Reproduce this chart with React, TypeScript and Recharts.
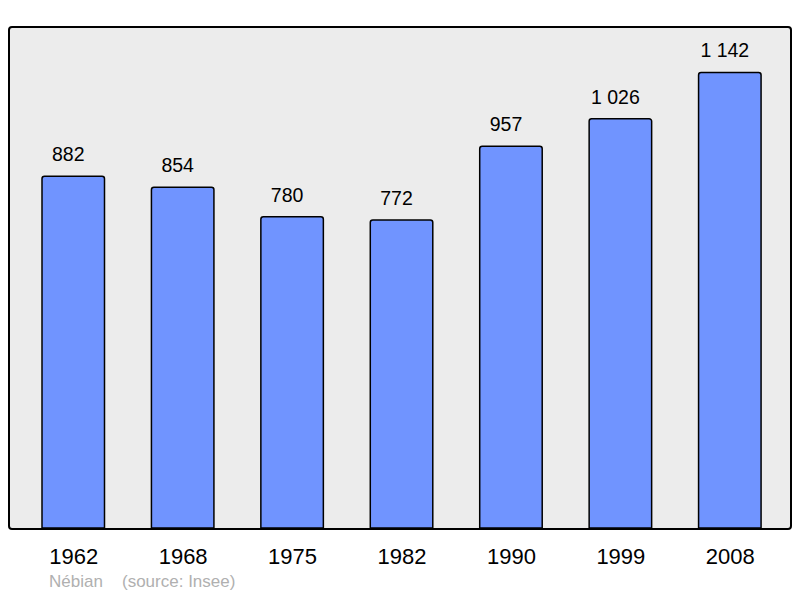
import React from "react"
import { BarChart, Bar, XAxis, YAxis, LabelList } from "recharts"

const years = ["1962", "1968", "1975", "1982", "1990", "1999", "2008"]
const population = [882, 854, 780, 772, 957, 1026, 1142]

const data = years.map((year, i) => ({ year, population: population[i] }))

const FONT = '"Liberation Sans", Arial, sans-serif'

const fmt = (v: number) => String(v).replace(/\B(?=(\d{3})+(?!\d))/g, " ")

export default function App() {
  return (
    <div style={{ position: "absolute", left: 0, top: 0, width: 800, height: 598, background: "#fff", fontFamily: FONT }}>
      {/* framed plot background */}
      <div
        style={{
          position: "absolute",
          left: 8,
          top: 26,
          width: 784,
          height: 503.5,
          boxSizing: "border-box",
          border: "2px solid #000",
          borderRadius: 4,
          background: "#ececec",
        }}
      />
      <div style={{ position: "absolute", left: 0, top: 0 }}>
        <BarChart
          width={800}
          height={598}
          data={data}
          margin={{ top: 27, right: 9, bottom: 0, left: 9 }}
        >
          <XAxis
            dataKey="year"
            interval={0}
            height={70}
            axisLine={false}
            tickLine={false}
            tickSize={6}
            tickMargin={14}
            padding={{ left: 10, right: 6 }}
            tick={{ fontSize: 22, fill: "#000", fontFamily: FONT }}
          />
          <YAxis hide domain={[0, 1256]} />
          <Bar
            dataKey="population"
            fill="#7094ff"
            stroke="#000"
            strokeWidth={1.5}
            barSize={62.5}
            radius={[2.5, 2.5, 0, 0]}
            isAnimationActive={false}
          >
            <LabelList
              dataKey="population"
              position="top"
              offset={15}
              dx={-5}
              formatter={(v: any) => fmt(Number(v))}
              style={{ fontSize: 19.5, fill: "#000", fontFamily: FONT }}
            />
          </Bar>
        </BarChart>
      </div>
      <div style={{ position: "absolute", left: 49, top: 572, fontSize: 17, color: "#b0b0b0", whiteSpace: "pre" }}>
        Nébian
      </div>
      <div style={{ position: "absolute", left: 122, top: 572, fontSize: 17, color: "#b0b0b0", whiteSpace: "pre" }}>
        (source: Insee)
      </div>
    </div>
  )
}
